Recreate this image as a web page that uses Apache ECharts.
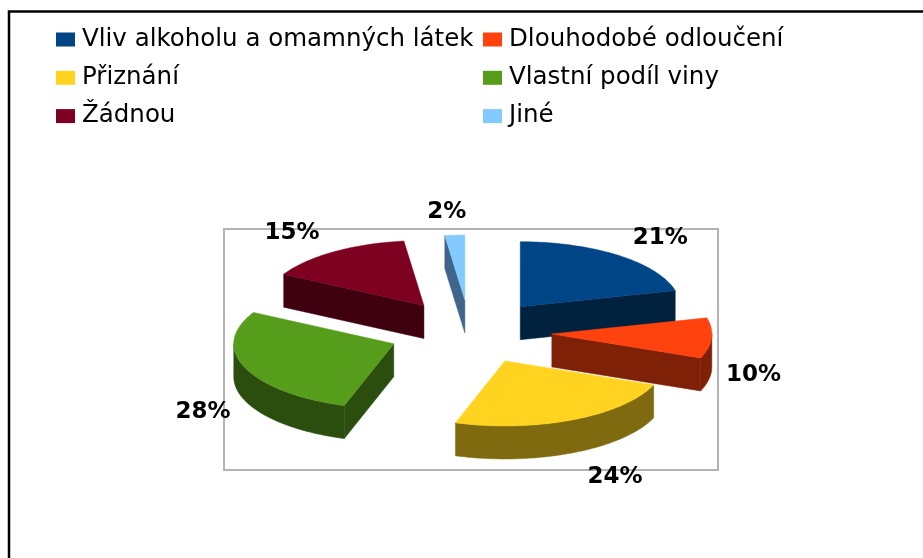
<!DOCTYPE html>
<html>
<head>
<meta charset="utf-8">
<script src="https://cdn.jsdelivr.net/npm/echarts@6/dist/echarts.min.js"></script>
<style>
html,body{margin:0;padding:0;background:#fff;}
#chart{width:923px;height:558px;}
</style>
</head>
<body>
<div id="chart"></div>
<script>
// data
var categories = ['Vliv alkoholu a omamných látek', 'Dlouhodobé odloučení', 'Přiznání', 'Vlastní podíl viny', 'Žádnou', 'Jiné'];
var values = [21, 10, 24, 28, 15, 2];
var colors = ['#004586', '#ff420e', '#ffd320', '#579d1c', '#7e0021', '#83caff'];
var sideColors = ['#00223f', '#7f2107', '#7f6a10', '#2b4e0e', '#3f0010', '#41658a'];

// pseudo 3d pie layout
var CX = 470, CY = 332;      // centre of the pie
var RX = 160, RY = 65;       // ellipse radii of top face
var H = 33;                  // thickness
var EX = 82, EY = 32;        // explode distance
var FONT = '"DejaVu Sans", "Liberation Sans", Arial, sans-serif';

var total = 0;
for (var i = 0; i < values.length; i++) total += values[i];

function sliceAngles(idx) {
  var before = 0;
  for (var k = 0; k < idx; k++) before += values[k];
  var a = before / total * Math.PI * 2;
  var b = (before + values[idx]) / total * Math.PI * 2;
  return [a, b, (a + b) / 2];
}

function renderSlice(idx) {
  return function (params, api) {
    var ang = sliceAngles(idx);
    var a = ang[0], b = ang[1], m = ang[2];
    var ox = CX + EX * Math.sin(m), oy = CY - EY * Math.cos(m);
    var pt = function (t, dy) {
      return [ox + RX * Math.sin(t), oy - RY * Math.cos(t) + (dy || 0)];
    };
    var arc = function (t0, t1, dy) {
      var pts = [];
      var n = Math.max(2, Math.ceil((t1 - t0) / 0.02));
      for (var j = 0; j <= n; j++) pts.push(pt(t0 + (t1 - t0) * j / n, dy));
      return pts;
    };
    var side = { fill: sideColors[idx], stroke: sideColors[idx], lineWidth: 0.5 };
    var children = [];
    // radial face at start angle
    if (Math.sin(a) < -1e-6) {
      children.push({ type: 'polygon', shape: { points: [[ox, oy], pt(a), pt(a, H), [ox, oy + H]] }, style: side });
    }
    // radial face at end angle
    if (Math.sin(b) > 1e-6) {
      children.push({ type: 'polygon', shape: { points: [[ox, oy], pt(b), pt(b, H), [ox, oy + H]] }, style: side });
    }
    // outer wall (front half only)
    var lo = Math.max(a, Math.PI / 2), hi = Math.min(b, Math.PI * 1.5);
    if (hi > lo) {
      var top = arc(lo, hi, 0);
      var bot = arc(lo, hi, H).reverse();
      children.push({ type: 'polygon', shape: { points: top.concat(bot) }, style: side });
    }
    // top face
    children.push({
      type: 'polygon',
      shape: { points: [[ox, oy]].concat(arc(a, b, 0)) },
      style: { fill: colors[idx], stroke: colors[idx], lineWidth: 0.5 }
    });
    // percent label
    var s = Math.sin(m), c = Math.cos(m);
    var rim = pt(m, c < 0 ? H : 0);
    var dx = 42 * (s > 0 ? 1 : -1) * Math.min(1, Math.abs(s) * 3);
    children.push({
      type: 'text',
      z2: 100,
      style: {
        text: Math.round(api.value(0) / total * 100) + '%',
        x: rim[0] + dx,
        y: rim[1] - 25 * c + 2,
        align: 'center',
        verticalAlign: 'middle',
        font: 'bold 23px ' + FONT,
        fill: '#000'
      }
    });
    return { type: 'group', children: children };
  };
}

// back-to-front order
var order = values.map(function (v, k) { return k; }).sort(function (p, q) {
  return -Math.cos(sliceAngles(p)[2]) + Math.cos(sliceAngles(q)[2]);
});

var series = [];
for (var i = 0; i < values.length; i++) {
  series.push({
    type: 'custom',
    name: categories[i],
    coordinateSystem: 'none',
    silent: true,
    z: 10 + order.indexOf(i),
    itemStyle: { color: colors[i] },
    renderItem: renderSlice(i),
    data: [values[i]]
  });
}

var legendBase = {
  orient: 'vertical',
  top: 27,
  padding: 0,
  itemWidth: 19,
  itemHeight: 14,
  itemGap: 13.3,
  icon: 'rect',
  selectedMode: false,
  textStyle: { fontFamily: FONT, fontSize: 24.5, color: '#000', lineHeight: 24, padding: [0, 0, 0, 2] }
};

var myChart = echarts.init(document.getElementById('chart'));
var option = {
  backgroundColor: '#fff',
  animation: false,
  legend: [
    Object.assign({}, legendBase, { left: 56, data: [categories[0], categories[2], categories[4]] }),
    Object.assign({}, legendBase, { left: 483, data: [categories[1], categories[3], categories[5]] })
  ],
  graphic: [
    { type: 'rect', z: 0, shape: { x: 9, y: 11.5, width: 1000, height: 1000 }, style: { fill: 'none', stroke: '#000', lineWidth: 2.5 } },
    { type: 'rect', z: 0, shape: { x: 224, y: 229, width: 494, height: 241 }, style: { fill: 'none', stroke: '#b3b3b3', lineWidth: 2 } }
  ],
  series: series
};
myChart.setOption(option);
</script>
</body>
</html>
